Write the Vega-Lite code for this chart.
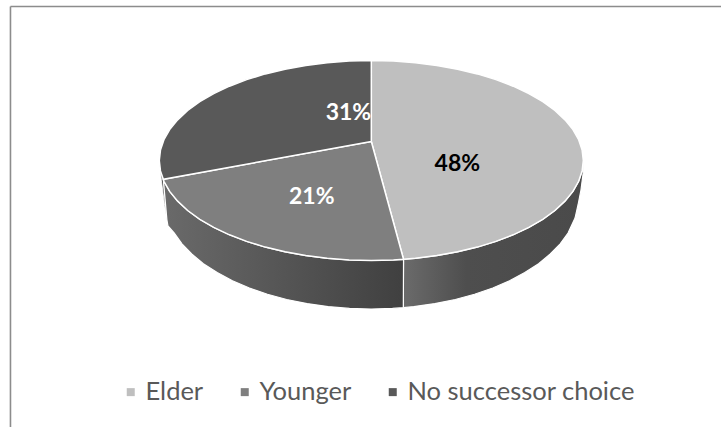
{
"$schema":"https://vega.github.io/schema/vega-lite/v6.json",
"width":721,"height":427,"autosize":"none","padding":0,"background":"white",
"config":{"view":{"stroke":null}},
"datasets":{
"outline":[
{"slice":"Elder","part":"top","i":0,"u":0,"v":0.19},{"slice":"Elder","part":"top","i":1,"u":0,"v":1},{"slice":"Elder","part":"top","i":2,"u":0.1045,"v":0.9945},{"slice":"Elder","part":"top","i":3,"u":0.2079,"v":0.9781},{"slice":"Elder","part":"top","i":4,"u":0.309,"v":0.9511},{"slice":"Elder","part":"top","i":5,"u":0.4067,"v":0.9135},{"slice":"Elder","part":"top","i":6,"u":0.5,"v":0.866},{"slice":"Elder","part":"top","i":7,"u":0.5878,"v":0.809},{"slice":"Elder","part":"top","i":8,"u":0.6691,"v":0.7431},{"slice":"Elder","part":"top","i":9,"u":0.7431,"v":0.6691},{"slice":"Elder","part":"top","i":10,"u":0.809,"v":0.5878},{"slice":"Elder","part":"top","i":11,"u":0.866,"v":0.5},{"slice":"Elder","part":"top","i":12,"u":0.9135,"v":0.4067},{"slice":"Elder","part":"top","i":13,"u":0.9511,"v":0.309},{"slice":"Elder","part":"top","i":14,"u":0.9781,"v":0.2079},{"slice":"Elder","part":"top","i":15,"u":0.9945,"v":0.1045},{"slice":"Elder","part":"top","i":16,"u":1,"v":0},{"slice":"Elder","part":"top","i":17,"u":0.9945,"v":-0.1045},{"slice":"Elder","part":"top","i":18,"u":0.9781,"v":-0.2079},{"slice":"Elder","part":"top","i":19,"u":0.9511,"v":-0.309},{"slice":"Elder","part":"top","i":20,"u":0.9135,"v":-0.4067},{"slice":"Elder","part":"top","i":21,"u":0.866,"v":-0.5},{"slice":"Elder","part":"top","i":22,"u":0.809,"v":-0.5878},{"slice":"Elder","part":"top","i":23,"u":0.7431,"v":-0.6691},{"slice":"Elder","part":"top","i":24,"u":0.6691,"v":-0.7431},{"slice":"Elder","part":"top","i":25,"u":0.5878,"v":-0.809},{"slice":"Elder","part":"top","i":26,"u":0.5,"v":-0.866},{"slice":"Elder","part":"top","i":27,"u":0.4067,"v":-0.9135},{"slice":"Elder","part":"top","i":28,"u":0.309,"v":-0.9511},{"slice":"Elder","part":"top","i":29,"u":0.2079,"v":-0.9781},{"slice":"Elder","part":"top","i":30,"u":0.152,"v":-0.988},{"slice":"Elder","part":"top","i":31,"u":0,"v":0.19},
{"slice":"Younger","part":"top","i":0,"u":0,"v":0.19},{"slice":"Younger","part":"top","i":1,"u":0.152,"v":-0.988},{"slice":"Younger","part":"top","i":2,"u":0.1045,"v":-0.9945},{"slice":"Younger","part":"top","i":3,"u":0,"v":-1},{"slice":"Younger","part":"top","i":4,"u":-0.1045,"v":-0.9945},{"slice":"Younger","part":"top","i":5,"u":-0.2079,"v":-0.9781},{"slice":"Younger","part":"top","i":6,"u":-0.309,"v":-0.9511},{"slice":"Younger","part":"top","i":7,"u":-0.4067,"v":-0.9135},{"slice":"Younger","part":"top","i":8,"u":-0.5,"v":-0.866},{"slice":"Younger","part":"top","i":9,"u":-0.5878,"v":-0.809},{"slice":"Younger","part":"top","i":10,"u":-0.6691,"v":-0.7431},{"slice":"Younger","part":"top","i":11,"u":-0.7431,"v":-0.6691},{"slice":"Younger","part":"top","i":12,"u":-0.809,"v":-0.5878},{"slice":"Younger","part":"top","i":13,"u":-0.866,"v":-0.5},{"slice":"Younger","part":"top","i":14,"u":-0.9135,"v":-0.4067},{"slice":"Younger","part":"top","i":15,"u":-0.9511,"v":-0.309},{"slice":"Younger","part":"top","i":16,"u":-0.9781,"v":-0.2079},{"slice":"Younger","part":"top","i":17,"u":-0.981,"v":-0.188},{"slice":"Younger","part":"top","i":18,"u":0,"v":0.19},
{"slice":"No successor choice","part":"top","i":0,"u":0,"v":0.19},{"slice":"No successor choice","part":"top","i":1,"u":-0.981,"v":-0.188},{"slice":"No successor choice","part":"top","i":2,"u":-0.9945,"v":-0.1045},{"slice":"No successor choice","part":"top","i":3,"u":-1,"v":0},{"slice":"No successor choice","part":"top","i":4,"u":-0.9945,"v":0.1045},{"slice":"No successor choice","part":"top","i":5,"u":-0.9781,"v":0.2079},{"slice":"No successor choice","part":"top","i":6,"u":-0.9511,"v":0.309},{"slice":"No successor choice","part":"top","i":7,"u":-0.9135,"v":0.4067},{"slice":"No successor choice","part":"top","i":8,"u":-0.866,"v":0.5},{"slice":"No successor choice","part":"top","i":9,"u":-0.809,"v":0.5878},{"slice":"No successor choice","part":"top","i":10,"u":-0.7431,"v":0.6691},{"slice":"No successor choice","part":"top","i":11,"u":-0.6691,"v":0.7431},{"slice":"No successor choice","part":"top","i":12,"u":-0.5878,"v":0.809},{"slice":"No successor choice","part":"top","i":13,"u":-0.5,"v":0.866},{"slice":"No successor choice","part":"top","i":14,"u":-0.4067,"v":0.9135},{"slice":"No successor choice","part":"top","i":15,"u":-0.309,"v":0.9511},{"slice":"No successor choice","part":"top","i":16,"u":-0.2079,"v":0.9781},{"slice":"No successor choice","part":"top","i":17,"u":-0.1045,"v":0.9945},{"slice":"No successor choice","part":"top","i":18,"u":0,"v":1},{"slice":"No successor choice","part":"top","i":19,"u":0,"v":0.19},
{"slice":"Elder","part":"side","i":0,"u":1,"v":0},{"slice":"Elder","part":"side","i":1,"u":0.9945,"v":-0.1045},{"slice":"Elder","part":"side","i":2,"u":0.9781,"v":-0.2079},{"slice":"Elder","part":"side","i":3,"u":0.9511,"v":-0.309},{"slice":"Elder","part":"side","i":4,"u":0.9135,"v":-0.4067},{"slice":"Elder","part":"side","i":5,"u":0.866,"v":-0.5},{"slice":"Elder","part":"side","i":6,"u":0.809,"v":-0.5878},{"slice":"Elder","part":"side","i":7,"u":0.7431,"v":-0.6691},{"slice":"Elder","part":"side","i":8,"u":0.6691,"v":-0.7431},{"slice":"Elder","part":"side","i":9,"u":0.5878,"v":-0.809},{"slice":"Elder","part":"side","i":10,"u":0.5,"v":-0.866},{"slice":"Elder","part":"side","i":11,"u":0.4067,"v":-0.9135},{"slice":"Elder","part":"side","i":12,"u":0.309,"v":-0.9511},{"slice":"Elder","part":"side","i":13,"u":0.2079,"v":-0.9781},{"slice":"Elder","part":"side","i":14,"u":0.152,"v":-0.988},{"slice":"Elder","part":"side","i":15,"u":0.151,"v":-1.472},{"slice":"Elder","part":"side","i":16,"u":0.201,"v":-1.461},{"slice":"Elder","part":"side","i":17,"u":0.3,"v":-1.431},{"slice":"Elder","part":"side","i":18,"u":0.396,"v":-1.39},{"slice":"Elder","part":"side","i":19,"u":0.487,"v":-1.338},{"slice":"Elder","part":"side","i":20,"u":0.573,"v":-1.275},{"slice":"Elder","part":"side","i":21,"u":0.652,"v":-1.202},{"slice":"Elder","part":"side","i":22,"u":0.724,"v":-1.121},{"slice":"Elder","part":"side","i":23,"u":0.789,"v":-1.032},{"slice":"Elder","part":"side","i":24,"u":0.844,"v":-0.935},{"slice":"Elder","part":"side","i":25,"u":0.891,"v":-0.833},{"slice":"Elder","part":"side","i":26,"u":0.928,"v":-0.725},{"slice":"Elder","part":"side","i":27,"u":0.961,"v":-0.576},{"slice":"Elder","part":"side","i":28,"u":0.975,"v":-0.445},{"slice":"Elder","part":"side","i":29,"u":0.989,"v":-0.295},{"slice":"Elder","part":"side","i":30,"u":1,"v":-0.115},{"slice":"Elder","part":"side","i":31,"u":1,"v":0},
{"slice":"Younger","part":"side","i":0,"u":0.152,"v":-0.988},{"slice":"Younger","part":"side","i":1,"u":0.1045,"v":-0.9945},{"slice":"Younger","part":"side","i":2,"u":0,"v":-1},{"slice":"Younger","part":"side","i":3,"u":-0.1045,"v":-0.9945},{"slice":"Younger","part":"side","i":4,"u":-0.2079,"v":-0.9781},{"slice":"Younger","part":"side","i":5,"u":-0.309,"v":-0.9511},{"slice":"Younger","part":"side","i":6,"u":-0.4067,"v":-0.9135},{"slice":"Younger","part":"side","i":7,"u":-0.5,"v":-0.866},{"slice":"Younger","part":"side","i":8,"u":-0.5878,"v":-0.809},{"slice":"Younger","part":"side","i":9,"u":-0.6691,"v":-0.7431},{"slice":"Younger","part":"side","i":10,"u":-0.7431,"v":-0.6691},{"slice":"Younger","part":"side","i":11,"u":-0.809,"v":-0.5878},{"slice":"Younger","part":"side","i":12,"u":-0.866,"v":-0.5},{"slice":"Younger","part":"side","i":13,"u":-0.9135,"v":-0.4067},{"slice":"Younger","part":"side","i":14,"u":-0.9511,"v":-0.309},{"slice":"Younger","part":"side","i":15,"u":-0.9781,"v":-0.2079},{"slice":"Younger","part":"side","i":16,"u":-0.981,"v":-0.188},{"slice":"Younger","part":"side","i":17,"u":-0.964,"v":-0.595},{"slice":"Younger","part":"side","i":18,"u":-0.959,"v":-0.655},{"slice":"Younger","part":"side","i":19,"u":-0.93,"v":-0.725},{"slice":"Younger","part":"side","i":20,"u":-0.893,"v":-0.833},{"slice":"Younger","part":"side","i":21,"u":-0.847,"v":-0.935},{"slice":"Younger","part":"side","i":22,"u":-0.792,"v":-1.032},{"slice":"Younger","part":"side","i":23,"u":-0.727,"v":-1.121},{"slice":"Younger","part":"side","i":24,"u":-0.655,"v":-1.202},{"slice":"Younger","part":"side","i":25,"u":-0.575,"v":-1.275},{"slice":"Younger","part":"side","i":26,"u":-0.49,"v":-1.338},{"slice":"Younger","part":"side","i":27,"u":-0.399,"v":-1.39},{"slice":"Younger","part":"side","i":28,"u":-0.303,"v":-1.431},{"slice":"Younger","part":"side","i":29,"u":-0.204,"v":-1.461},{"slice":"Younger","part":"side","i":30,"u":-0.103,"v":-1.479},{"slice":"Younger","part":"side","i":31,"u":-0.001,"v":-1.485},{"slice":"Younger","part":"side","i":32,"u":0.1,"v":-1.479},{"slice":"Younger","part":"side","i":33,"u":0.151,"v":-1.472},{"slice":"Younger","part":"side","i":34,"u":0.152,"v":-0.988},
{"slice":"No successor choice","part":"side","i":0,"u":-0.981,"v":-0.188},{"slice":"No successor choice","part":"side","i":1,"u":-0.9945,"v":-0.1045},{"slice":"No successor choice","part":"side","i":2,"u":-0.99,"v":-0.2},{"slice":"No successor choice","part":"side","i":3,"u":-0.975,"v":-0.45},{"slice":"No successor choice","part":"side","i":4,"u":-0.964,"v":-0.595},{"slice":"No successor choice","part":"side","i":5,"u":-0.981,"v":-0.188}
],
"shares":[
{"slice":"Elder","share":0.48,"u":0.406,"v":-0.03},
{"slice":"Younger","share":0.21,"u":-0.281,"v":-0.365},
{"slice":"No successor choice","share":0.31,"u":-0.108,"v":0.475}
]},
"data":{"name":"outline"},
"encoding":{"x":{"field":"u","type":"quantitative","scale":{"domain":[-1.7514,1.6495],"nice":false,"zero":false},"axis":null},"y":{"field":"v","type":"quantitative","scale":{"domain":[-2.665,1.605],"nice":false,"zero":false},"axis":null}},
"layer":[
{"transform":[{"filter":"datum.part==='side' && datum.slice==='No successor choice'"}],
 "mark":{"type":"line","fill":"#4a4a4a","stroke":"white","strokeWidth":0.8},
 "encoding":{"order":{"field":"i"}}},
{"transform":[{"filter":"datum.part==='side' && datum.slice==='Elder'"}],
 "mark":{"type":"line","stroke":"white","strokeWidth":1.2,"fill":{"gradient":"linear","x1":0,"x2":1,"y1":0,"y2":0,"stops":[{"offset":0,"color":"#6b6b6b"},{"offset":0.35,"color":"#4e4e4e"},{"offset":1,"color":"#4a4a4a"}]}},
 "encoding":{"order":{"field":"i"}}},
{"transform":[{"filter":"datum.part==='side' && datum.slice==='Younger'"}],
 "mark":{"type":"line","stroke":"white","strokeWidth":1.2,"fill":{"gradient":"linear","x1":0,"x2":1,"y1":0,"y2":0,"stops":[{"offset":0,"color":"#6a6a6a"},{"offset":1,"color":"#404040"}]}},
 "encoding":{"order":{"field":"i"}}},
{"transform":[{"filter":"datum.part==='top'"}],
 "mark":{"type":"line","stroke":"white","strokeWidth":1.5},
 "encoding":{"order":{"field":"i"},"detail":{"field":"slice"},
  "fill":{"field":"slice","type":"nominal","scale":{"domain":["Elder","Younger","No successor choice"],"range":["#bfbfbf","#7f7f7f","#595959"]},
   "legend":{"title":null,"orient":"none","legendX":118,"legendY":379,"direction":"horizontal","symbolType":"square","symbolSize":64,"symbolStrokeWidth":0,"labelFont":"Lato","labelFontSize":25.5,"labelColor":"#595959","labelOffset":2,"columnPadding":28,"labelLimit":300}}}},
{"data":{"name":"shares"},
 "mark":{"type":"text","font":"Lato","fontWeight":"bold","fontSize":23,"align":"center","baseline":"middle"},
 "encoding":{"text":{"field":"share","type":"quantitative","format":".0%"},
  "color":{"condition":{"test":"datum.slice==='Elder'","value":"#000000"},"value":"#ffffff"}}},
{"mark":{"type":"rule","color":"#8c8c8c","strokeWidth":1.6},"data":{"values":[{"u":-1.702,"u2":1.6495,"v":1.54,"v2":1.54},{"u":-1.702,"u2":-1.702,"v":1.54,"v2":-2.665}]},
 "encoding":{"x2":{"field":"u2"},"y2":{"field":"v2"}}}
]}
